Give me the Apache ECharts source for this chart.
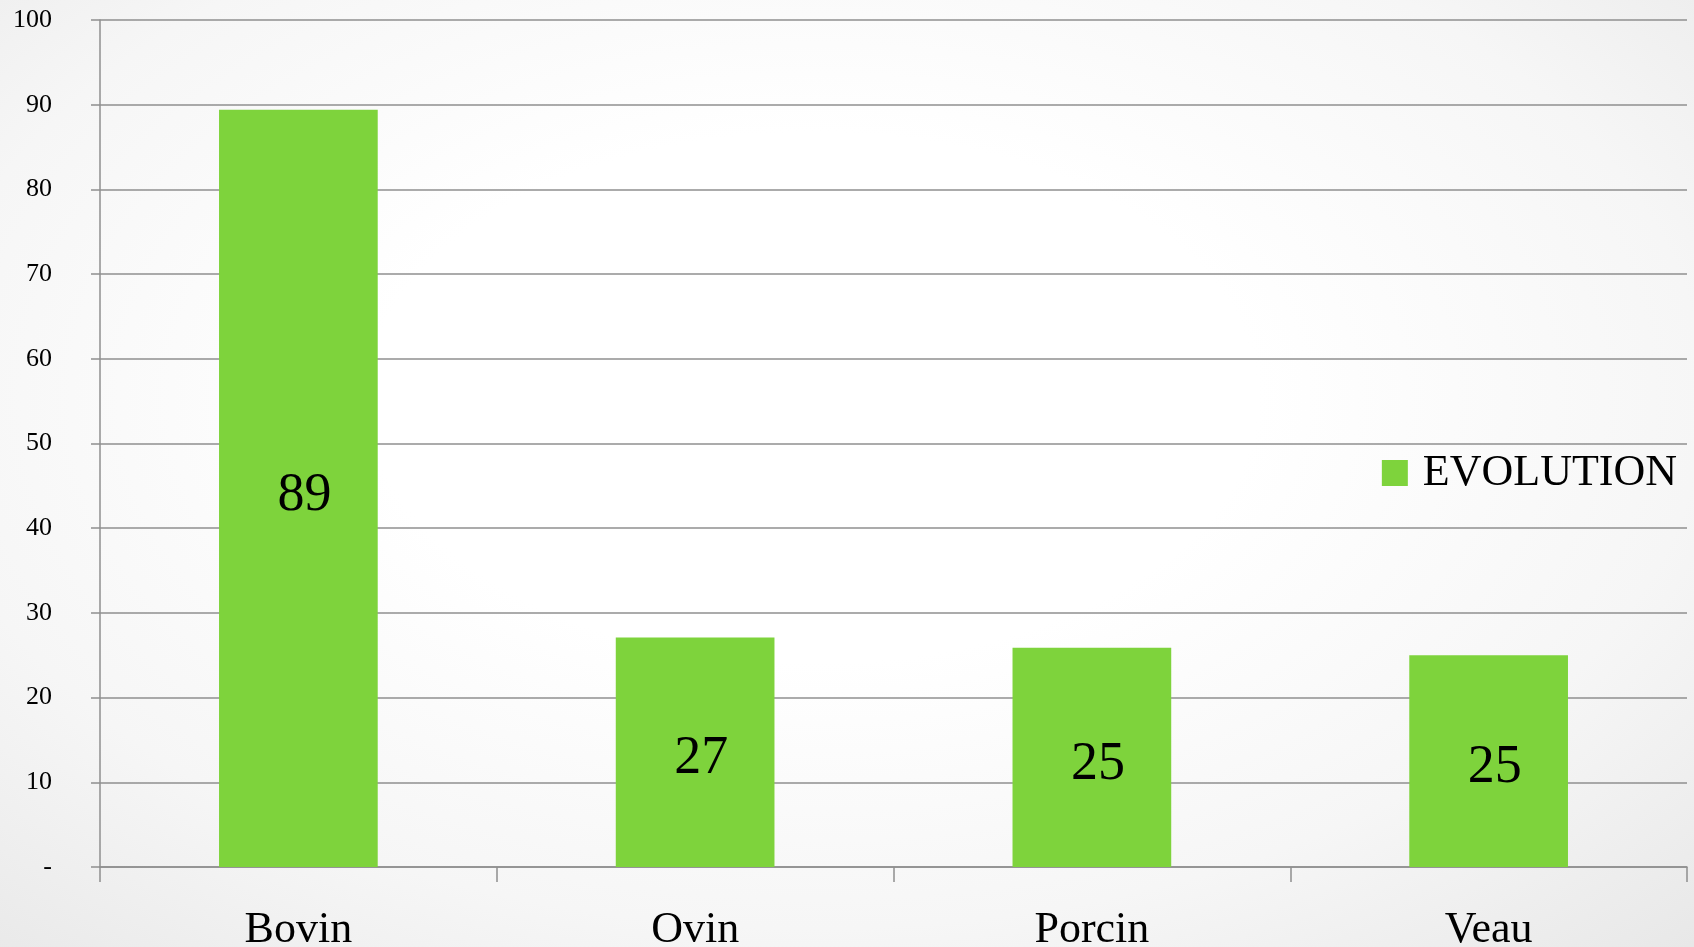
<!DOCTYPE html>
<html>
<head>
<meta charset="utf-8">
<script src="https://cdn.jsdelivr.net/npm/echarts@6/dist/echarts.min.js"></script>
<style>
  html, body { margin: 0; padding: 0; }
  #chart {
    width: 1694px; height: 947px;
    background: radial-gradient(ellipse 75% 80% at 48% 42%, #ffffff 35%, #f6f6f6 70%, #e8e8e8 100%);
  }
</style>
</head>
<body>
<div id="chart"></div>
<script>
const categories = ["Bovin", "Ovin", "Porcin", "Veau"];
const seriesName = "EVOLUTION";
const values = [89.4, 27.1, 25.9, 25.0];
const valueLabels = ["89", "27", "25", "25"];
const yTicks = { min: 0, max: 100, interval: 10 };

const chart = echarts.init(document.getElementById('chart'), null, { renderer: 'canvas' });
const serif = '"Liberation Serif", "DejaVu Serif", serif';
const lineColor = '#8f8f8f';

chart.setOption({
  backgroundColor: 'transparent',
  animation: false,
  textStyle: { fontFamily: serif },
  grid: { left: 100, right: 7, top: 20, bottom: 80, containLabel: false, outerBoundsMode: 'none' },
  legend: {
    show: true,
    data: [seriesName],
    right: 12,
    top: 446,
    icon: 'rect',
    itemWidth: 26,
    itemHeight: 26,
    textStyle: { fontFamily: serif, fontSize: 44, color: '#000', padding: [0, 0, 0, 10] }
  },
  xAxis: {
    type: 'category',
    data: categories,
    axisLine: { show: true, lineStyle: { color: lineColor, width: 1.5 } },
    axisTick: { show: true, length: 15, lineStyle: { color: lineColor, width: 1.5 } },
    axisLabel: { fontFamily: serif, fontSize: 44, color: '#000', margin: 41 },
    splitLine: { show: false }
  },
  yAxis: {
    type: 'value',
    min: yTicks.min, max: yTicks.max, interval: yTicks.interval,
    axisLine: { show: true, lineStyle: { color: lineColor, width: 1.5 } },
    axisTick: { show: true, length: 9, lineStyle: { color: lineColor, width: 1.5 } },
    axisLabel: {
      fontFamily: serif, fontSize: 26, color: '#000', margin: 48,
      formatter: v => v === 0 ? '-' : String(v)
    },
    splitLine: { show: true, lineStyle: { color: lineColor, width: 1.5 } }
  },
  series: [{
    name: seriesName,
    type: 'bar',
    data: values,
    barWidth: '40%',
    itemStyle: { color: '#7ED33C' },
    label: {
      show: true,
      position: 'inside',
      offset: [6, 7],
      fontFamily: serif,
      fontSize: 54,
      color: '#000',
      formatter: p => valueLabels[p.dataIndex]
    }
  }]
});
</script>
</body>
</html>
